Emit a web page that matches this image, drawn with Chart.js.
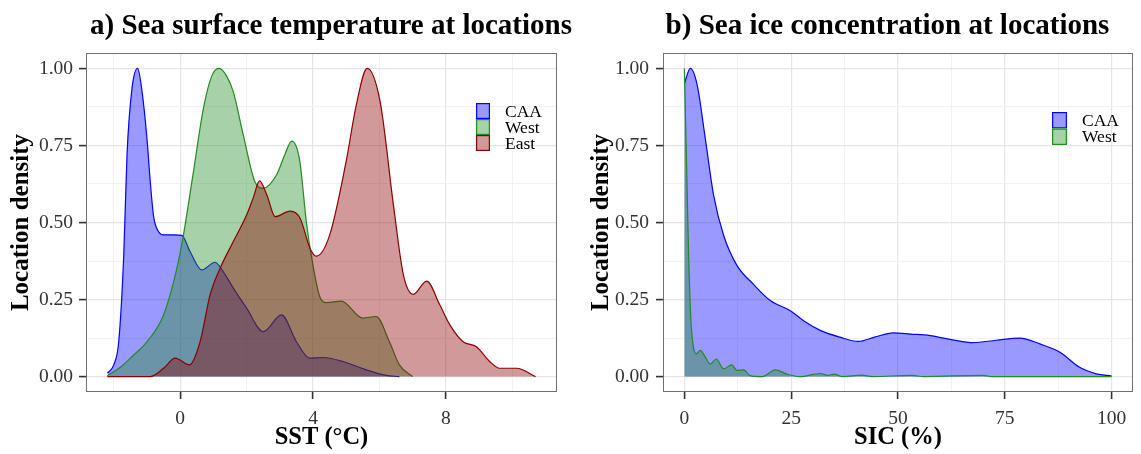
<!DOCTYPE html>
<html>
<head>
<meta charset="utf-8">
<script src="https://cdn.jsdelivr.net/npm/chart.js@4.4.1/dist/chart.umd.min.js"></script>
<style>
  body { margin: 0; background: #fff; }
  #wrap { position: relative; width: 1141px; height: 454px; }
  canvas { position: absolute; top: 0; }
  #sst { left: 0; }
  #sic { left: 570px; }
</style>
</head>
<body>
<div id="wrap">
  <canvas id="sst" width="600" height="454"></canvas>
  <canvas id="sic" width="571" height="454"></canvas>
</div>
<script>
// panel a) SST densities, one x/y pair per region
const caaSstX = [-2.19, -2.0, -1.85, -1.7, -1.6, -1.45, -1.28, -1.16, -1.0, -0.9, -0.8, -0.65, -0.5, -0.2, 0.05, 0.3, 0.65, 1.05, 1.3, 1.6, 2.0, 2.5, 3.05, 3.5, 3.9, 4.3, 4.9, 5.6, 6.2, 6.6];
const caaSstY = [0.011, 0.038, 0.113, 0.39, 0.72, 0.935, 1.0, 0.935, 0.773, 0.632, 0.52, 0.47, 0.46, 0.46, 0.458, 0.405, 0.346, 0.371, 0.34, 0.287, 0.222, 0.146, 0.20, 0.113, 0.06, 0.062, 0.049, 0.022, 0.004, 0.0];

const westSstX = [-2.19, -1.8, -1.4, -1.0, -0.5, -0.1, 0.1, 0.4, 0.7, 0.95, 1.17, 1.4, 1.6, 1.9, 2.25, 2.5, 2.9, 3.15, 3.36, 3.6, 3.8, 4.0, 4.2, 4.4, 4.85, 5.5, 5.9, 6.3, 6.6, 7.0];
const westSstY = [0.003, 0.03, 0.07, 0.113, 0.20, 0.351, 0.46, 0.665, 0.87, 0.975, 1.0, 0.975, 0.924, 0.784, 0.632, 0.611, 0.654, 0.72, 0.764, 0.70, 0.50, 0.36, 0.26, 0.24, 0.245, 0.19, 0.195, 0.113, 0.038, 0.0];

const eastSstX = [-2.19, -0.9, -0.5, -0.15, 0.28, 0.6, 0.9, 1.2, 1.6, 2.0, 2.2, 2.39, 2.61, 2.86, 3.31, 3.61, 3.91, 4.1, 4.5, 5.0, 5.3, 5.63, 6.02, 6.42, 6.72, 7.02, 7.42, 7.82, 8.12, 8.52, 8.92, 9.32, 9.62, 10.13, 10.7];
const eastSstY = [0, 0, 0.027, 0.06, 0.038, 0.113, 0.265, 0.351, 0.438, 0.524, 0.58, 0.635, 0.589, 0.519, 0.537, 0.514, 0.416, 0.391, 0.459, 0.70, 0.88, 1.0, 0.892, 0.557, 0.33, 0.267, 0.31, 0.232, 0.168, 0.113, 0.097, 0.049, 0.027, 0.027, 0.0];

// panel b) SIC densities
const caaSicX = [0, 1.4, 3.0, 4.9, 6.85, 9.2, 12.3, 16.2, 20.1, 24.8, 28, 31.8, 36.4, 40.7, 44.5, 48.9, 53, 57.5, 62.5, 67.6, 73, 78.5, 83.2, 87.9, 92.5, 96.4, 100];
const caaSicY = [0.951, 1.0, 0.946, 0.772, 0.588, 0.458, 0.361, 0.299, 0.247, 0.214, 0.18, 0.150, 0.128, 0.114, 0.128, 0.142, 0.138, 0.133, 0.12, 0.110, 0.118, 0.125, 0.106, 0.079, 0.030, 0.009, 0.002];

const westSicX = [0, 0.47, 1.0, 1.56, 2.18, 2.8, 3.74, 4.9, 6.07, 7.48, 9.18, 11.1, 12.3, 13.9, 15.4, 18.2, 21.3, 24.0, 27, 31.8, 33.5, 35, 37, 41.5, 44, 53.2, 56, 69.9, 72, 100];
const westSicY = [1.0, 0.72, 0.393, 0.176, 0.09, 0.074, 0.085, 0.063, 0.041, 0.057, 0.025, 0.038, 0.02, 0.022, 0.003, 0.0, 0.022, 0.008, 0.0, 0.01, 0.004, 0.008, 0.0, 0.005, 0.0, 0.004, 0.0, 0.004, 0.0, 0.0];

// tick positions (minor ones only carry a grid line)
const sstTicks = [-2, 0, 2, 4, 6, 8, 10];
const sstMajor = [0, 4, 8];
const sicTicks = [0, 12.5, 25, 37.5, 50, 62.5, 75, 87.5, 100];
const sicMajor = [0, 25, 50, 75, 100];
const densTicks = [0, 0.125, 0.25, 0.375, 0.5, 0.625, 0.75, 0.875, 1];
const densMajor = [0, 0.25, 0.5, 0.75, 1];

const FONT = "'Liberation Serif', 'Times New Roman', serif";
Chart.defaults.font.family = FONT;

const colors = {
  CAA: [0, 0, 255],
  West: [34, 139, 34],
  East: [139, 0, 0]
};

function pts(xs, ys) {
  return xs.map((x, i) => ({ x: x, y: ys[i] }));
}

function dens(label, xs, ys, order) {
  const c = colors[label].join(',');
  return {
    label: label,
    data: pts(xs, ys),
    borderColor: 'rgb(' + c + ')',
    backgroundColor: 'rgba(' + c + ',0.4)',
    fill: 'origin',
    borderWidth: 1.2,
    pointRadius: 0,
    cubicInterpolationMode: 'monotone',
    order: order
  };
}

function gridOpts(major) {
  const isMajor = ctx => ctx.tick && major.includes(ctx.tick.value);
  return {
    color: ctx => isMajor(ctx) ? '#e6e6e6' : '#f2f2f2',
    lineWidth: ctx => isMajor(ctx) ? 1.2 : 1,
    tickLength: 7,
    tickWidth: 1.6,
    tickColor: ctx => isMajor(ctx) ? '#333' : 'rgba(0,0,0,0)'
  };
}

// frame, title and legend, drawn the ggplot way
const panelDecor = {
  id: 'panelDecor',
  afterDatasetsDraw(chart) {
    const a = chart.chartArea, ctx = chart.ctx;
    ctx.save();
    ctx.strokeStyle = '#707070';
    ctx.lineWidth = 1;
    ctx.strokeRect(Math.round(a.left) + 0.5, Math.round(a.top) + 0.5,
      Math.round(a.right - a.left) - 1, Math.round(a.bottom - a.top) - 1);
    ctx.restore();
  },
  afterDraw(chart, args, o) {
    const ctx = chart.ctx;
    ctx.save();
    ctx.fillStyle = '#000';
    ctx.font = 'bold 29px ' + FONT;
    ctx.textAlign = 'center';
    ctx.textBaseline = 'alphabetic';
    ctx.fillText(o.title, o.titleX, 34);

    ctx.font = '17.5px ' + FONT;
    ctx.textAlign = 'left';
    ctx.textBaseline = 'middle';
    chart.data.datasets.forEach((ds, i) => {
      const y = o.legendY + i * o.keyH;
      ctx.fillStyle = '#fff';
      ctx.fillRect(o.legendX, y, o.keyW, o.keyH);
      ctx.fillStyle = ds.backgroundColor;
      ctx.fillRect(o.legendX, y, o.keyW, o.keyH);
      ctx.strokeStyle = ds.borderColor;
      ctx.lineWidth = 1.2;
      ctx.strokeRect(o.legendX + 0.6, y + 0.6, o.keyW - 1.2, o.keyH - 1.2);
      ctx.fillStyle = '#000';
      ctx.fillText(ds.label, o.legendX + o.textDx, y + o.keyH / 2 + 1);
    });
    ctx.restore();
  }
};

function makePanel(id, p) {
  return new Chart(document.getElementById(id), {
    type: 'line',
    data: { datasets: p.datasets },
    plugins: [panelDecor],
    options: {
      responsive: false,
      animation: false,
      events: [],
      layout: { padding: { top: 53, right: p.padRight, bottom: 0, left: 0 } },
      plugins: {
        legend: { display: false },
        tooltip: { enabled: false },
        panelDecor: p.decor
      },
      scales: {
        x: {
          type: 'linear',
          min: p.xMin,
          max: p.xMax,
          afterBuildTicks: s => { s.ticks = p.xTicks.map(v => ({ value: v })); },
          afterFit: s => { s.height = 62; },
          ticks: {
            autoSkip: false,
            maxRotation: 0,
            padding: 8,
            color: '#333',
            font: { size: 19.5 },
            callback: v => p.xMajor.includes(v) ? String(v) : ''
          },
          grid: gridOpts(p.xMajor),
          border: { display: false },
          title: {
            display: true,
            text: p.xTitle,
            color: '#000',
            font: { size: 24.5, weight: 'bold', lineHeight: 1 },
            padding: { top: 0, bottom: 4 }
          }
        },
        y: {
          type: 'linear',
          min: -0.05,
          max: 1.05,
          afterBuildTicks: s => { s.ticks = densTicks.map(v => ({ value: v })); },
          afterFit: s => { s.width = p.yWidth; },
          ticks: {
            autoSkip: false,
            padding: p.yPad,
            color: '#333',
            font: { size: 19.5 },
            callback: v => densMajor.includes(v) ? v.toFixed(2) : ''
          },
          grid: gridOpts(densMajor),
          border: { display: false },
          title: {
            display: true,
            text: 'Location density',
            color: '#000',
            font: { size: 25, weight: 'bold', lineHeight: 1 },
            padding: { top: p.yTitlePad, bottom: 0 }
          }
        }
      }
    }
  });
}

makePanel('sst', {
  datasets: [
    dens('CAA', caaSstX, caaSstY, 3),
    dens('West', westSstX, westSstY, 2),
    dens('East', eastSstX, eastSstY, 1)
  ],
  xMin: -2.835, xMax: 11.345,
  xTicks: sstTicks, xMajor: sstMajor,
  xTitle: 'SST (°C)',
  padRight: 43, yWidth: 86, yPad: 6, yTitlePad: 9.5,
  decor: {
    title: 'a) Sea surface temperature at locations', titleX: 331,
    legendX: 476, legendY: 103, keyW: 14, keyH: 16, textDx: 29
  }
});

makePanel('sic', {
  datasets: [
    dens('CAA', caaSicX, caaSicY, 2),
    dens('West', westSicX, westSicY, 1)
  ],
  xMin: -5, xMax: 105,
  xTicks: sicTicks, xMajor: sicMajor,
  xTitle: 'SIC (%)',
  padRight: 8, yWidth: 93, yPad: 7, yTitlePad: 19.5,
  decor: {
    title: 'b) Sea ice concentration at locations', titleX: 317.5,
    legendX: 482, legendY: 112, keyW: 15, keyH: 16.5, textDx: 30
  }
});
</script>
</body>
</html>
